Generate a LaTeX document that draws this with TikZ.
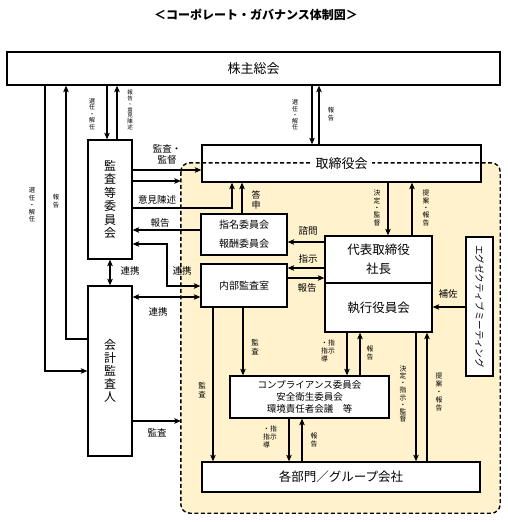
\documentclass[tikz,border=0pt]{standalone}
\usepackage{fontspec}
\setmainfont{Noto Sans CJK JP}
\usepackage{xcolor}
\usetikzlibrary{arrows.meta,positioning,calc}

\definecolor{areacol}{HTML}{FFF2CC}
\newcommand{\tate}[1]{\begin{tabular}[t]{@{}c@{}}#1\end{tabular}}

\begin{document}
\begin{tikzpicture}[x=1pt,y=-1pt,
    box/.style={draw, line width=1.3pt, fill=white, inner sep=0pt, align=center},
    conn/.style={line width=1.1pt, -{Stealth[length=6.5pt,width=5.5pt,inset=1.5pt]}},
    biconn/.style={line width=1.1pt, {Stealth[length=6.5pt,width=5.5pt,inset=1.5pt]}-{Stealth[length=6.5pt,width=5.5pt,inset=1.5pt]}},
    lbl/.style={font=\fontsize{9.5}{11}\selectfont, inner sep=0pt, align=center},
    vlbl/.style={font=\fontsize{6}{6.6}\selectfont, inner sep=0pt, align=center}]
\useasboundingbox (0,0) rectangle (507,522);

\node[font=\bfseries\fontsize{12}{14}\selectfont] (title) at (256,15) {＜コーポレート・ガバナンス体制図＞};

% execution area
\node[fill=areacol, rounded corners=9pt, minimum width=319pt, minimum height=350pt, inner sep=0pt] (area) at (340.5,338) {};

% boxes
\node[box, minimum width=493pt, minimum height=33pt, font=\fontsize{13}{15}\selectfont] (kabunushi) at (253.5,68.5) {株主総会};
\node[box, minimum width=44pt, minimum height=119pt, font=\fontsize{12}{13.5}\selectfont] (kansatou) at (110,199.5) {監\\査\\等\\委\\員\\会};
\node[box, minimum width=44pt, minimum height=170pt, font=\fontsize{12}{13}\selectfont] (kaikei) at (110,371) {会\\計\\監\\査\\人};
\node[box, minimum width=279pt, minimum height=37pt] (torishimari) at (341.5,163.5) {};
\node[box, minimum width=86pt, minimum height=41pt, font=\fontsize{10}{19}\selectfont] (shimei) at (244,234.5) {指名委員会\\報酬委員会};
\node[box, minimum width=86pt, minimum height=43pt, font=\fontsize{10}{12}\selectfont] (naibu) at (244,285.5) {内部監査室};
\node[box, minimum width=107pt, minimum height=47pt, font=\fontsize{12.5}{19}\selectfont] (daihyo) at (378.5,259.5) {代表取締役\\社長};
\node[box, minimum width=107pt, minimum height=49pt, font=\fontsize{12.5}{15}\selectfont] (shikkou) at (378.5,307.5) {執行役員会};
\node[box, minimum width=27pt, minimum height=139pt, font=\fontsize{9.5}{11}\selectfont] (exec) at (479.5,306.5) {\rotatebox{-90}{エグゼクティブミーティング}};
\node[box, minimum width=159pt, minimum height=42pt, font=\fontsize{9.5}{12}\selectfont] (comp) at (309.5,397) {コンプライアンス委員会\\安全衛生委員会\\環境責任者会議　等};
\node[box, minimum width=278pt, minimum height=30pt, font=\fontsize{12.5}{15}\selectfont] (kakubu) at (341,477) {各部門／グループ会社};

% dashed border over the board box
\draw[line width=1.4pt, dash pattern=on 4pt off 2.5pt, rounded corners=9pt] (area.north west) rectangle (area.south east);
\node[fill=white, inner sep=4pt, font=\fontsize{13}{15}\selectfont] (torishimariText) at (torishimari) {取締役会};

% shareholders
\coordinate (renkeiBend) at (167,286);
\draw[conn] (kabunushi.south -| 45,0) |- (kaikei.west);
\draw[conn] (kaikei.west |- 0,339) -| (kabunushi.south -| 66,0);
\draw[conn] (kabunushi.south -| 107,0) -- (kansatou.north -| 107,0);
\draw[conn] (kansatou.north -| 117,0) -- (kabunushi.south -| 117,0);
\draw[conn] (kabunushi.south -| 312,0) -- (torishimari.north -| 312,0);
\draw[conn] (torishimari.north -| 319,0) -- (kabunushi.south -| 319,0);

% audit committee
\draw[conn] (kansatou.east |- 0,170) -- (torishimari.west |- 0,170);
\draw[conn] (kansatou.east |- 0,181) -- (area.west |- 0,181);
\draw[conn] (kansatou.east |- 0,208) -| (torishimari.south -| 232,0);
\draw[conn] (shimei.north -| 242,0) -- (torishimari.south -| 242,0);
\draw[conn] (shimei.west |- 0,230) -- (kansatou.east |- 0,230);
\draw[biconn] (kansatou.east |- 0,244) -| (renkeiBend) -- (naibu.west |- renkeiBend);
\draw[biconn] (kansatou.south) -- (kaikei.north);
\draw[biconn] (kaikei.east |- 0,297) -- (naibu.west |- 0,297);
\draw[conn] (kaikei.east |- 0,421) -- (area.west |- 0,421);

% board and executives
\draw[conn] (torishimari.south -| 388,0) -- (daihyo.north -| 388,0);
\draw[conn] (daihyo.north -| 412,0) -- (torishimari.south -| 412,0);
\draw[conn] (daihyo.west |- 0,242) -- (shimei.east |- 0,242);
\draw[conn] (daihyo.west |- 0,268) -- (naibu.east |- 0,268);
\draw[conn] (naibu.east |- 0,278) -- (daihyo.west |- 0,278);
\draw[conn] (exec.west |- 0,307) -- (shikkou.east |- 0,307);

% down to departments
\draw[conn] (naibu.south -| 213,0) -- (kakubu.north -| 213,0);
\draw[conn] (naibu.south -| 243,0) -- (comp.north -| 243,0);
\draw[conn] (shikkou.south -| 347,0) -- (comp.north -| 347,0);
\draw[conn] (comp.north -| 360,0) -- (shikkou.south -| 360,0);
\draw[conn] (shikkou.south -| 416,0) -- (kakubu.north -| 416,0);
\draw[conn] (kakubu.north -| 427,0) -- (shikkou.south -| 427,0);
\draw[conn] (comp.south -| 289,0) -- (kakubu.north -| 289,0);
\draw[conn] (kakubu.north -| 302,0) -- (comp.south -| 302,0);

% labels
\node[vlbl, font=\fontsize{6.3}{7.2}\selectfont] (lSenninL) at (32,205) {選\\任\\・\\解\\任};
\node[vlbl, font=\fontsize{6.3}{8}\selectfont] (lHokokuL) at (56,201) {報\\告};
\node[vlbl, font=\fontsize{6}{6.4}\selectfont] (lSenninK) at (92,114) {選\\任\\・\\解\\任};
\node[vlbl, font=\fontsize{5.5}{5.8}\selectfont] (lHokokuK) at (130,110) {報\\告\\・\\意\\見\\陳\\述};
\node[vlbl, font=\fontsize{6}{6.2}\selectfont] (lSenninT) at (295,115) {選\\任\\・\\解\\任};
\node[vlbl, font=\fontsize{6.3}{7.5}\selectfont] (lHokokuT) at (331,114) {報\\告};
\node[lbl] (lKansaKantoku) at (167,154) {監査・\\監督};
\node[lbl] (lIken) at (157,200) {意見陳述};
\node[lbl] (lHokokuS) at (160,223) {報告};
\node[vlbl, font=\fontsize{9}{10}\selectfont] (lToshin) at (256,200) {答\\申};
\node[lbl] (lRenkeiV) at (130,271) {連携};
\node[lbl] (lRenkeiN) at (182,271) {連携};
\node[lbl] (lRenkeiK) at (158,312) {連携};
\node[lbl] (lKansaK) at (157,433) {監査};
\node[vlbl, font=\fontsize{6.8}{7.3}\selectfont] (lKettei) at (377,208) {決\\定\\・\\監\\督};
\node[vlbl, font=\fontsize{6.8}{7.3}\selectfont] (lTeian) at (426,208) {提\\案\\・\\報\\告};
\node[lbl] (lShimon) at (308,231) {諮問};
\node[lbl] (lShiji) at (308,259) {指示};
\node[lbl] (lHokokuD) at (307,288) {報告};
\node[lbl] (lHosa) at (448,294) {補佐};
\node[vlbl, font=\fontsize{7.5}{9}\selectfont] (lKansaN) at (255,347) {監\\査};
\node[vlbl, font=\fontsize{7.5}{9}\selectfont] (lKansaB) at (202,390) {監\\査};
\node[vlbl, font=\fontsize{6.8}{7.5}\selectfont] (lShijiS) at (328,352) {\tate{・\\指\\導}\tate{指\\示}};
\node[vlbl, font=\fontsize{6.8}{8}\selectfont] (lHokokuS2) at (370,353) {報\\告};
\node[vlbl, font=\fontsize{6.8}{7.2}\selectfont] (lKettei2) at (403,394) {決\\定\\・\\指\\示\\・\\監\\督};
\node[vlbl, font=\fontsize{6.8}{7.8}\selectfont] (lTeian2) at (439,392) {提\\案\\・\\報\\告};
\node[vlbl, font=\fontsize{6.8}{7.5}\selectfont] (lShijiC) at (270,438) {\tate{・\\指\\導}\tate{指\\示}};
\node[vlbl, font=\fontsize{6.8}{8}\selectfont] (lHokokuC) at (314,440) {報\\告};
\end{tikzpicture}
\end{document}
